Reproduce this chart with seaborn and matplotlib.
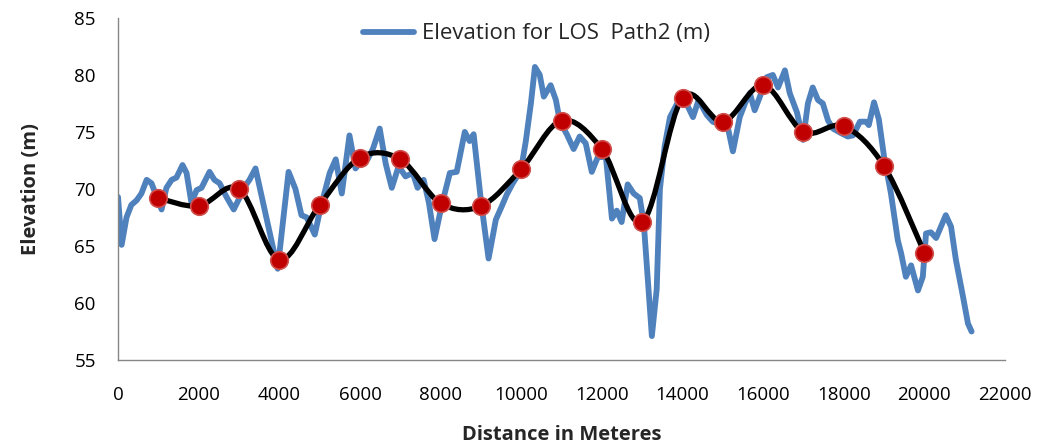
import numpy as np
import pandas as pd
import matplotlib
matplotlib.use('Agg')
import matplotlib.pyplot as plt
import seaborn as sns
from matplotlib.path import Path
from matplotlib.patches import PathPatch

# === Data ===
profile_dist = [0, 90, 210, 330, 460, 580, 710, 830, 960, 1080, 1200, 1330, 1450, 1600, 1700,
                1820, 1950, 2070, 2270, 2390, 2520, 2690, 2870, 3010, 3140, 3260, 3410, 3960,
                4230, 4400, 4550, 4680, 4880, 5020, 5250, 5400, 5550, 5740, 5890, 6040, 6190,
                6320, 6490, 6640, 6790, 6960, 7130, 7310, 7430, 7580, 7710, 7850, 8030, 8230,
                8400, 8600, 8720, 8820, 9000, 9190, 9370, 9520, 9640, 9790, 9990, 10110, 10240,
                10340, 10460, 10560, 10730, 10860, 10960, 11130, 11300, 11450, 11600, 11750,
                11900, 12100, 12250, 12370, 12490, 12640, 12790, 12940, 13040, 13110, 13240,
                13360, 13440, 13560, 13690, 13960, 14110, 14260, 14400, 14600, 14750, 14980,
                15100, 15250, 15420, 15550, 15670, 15790, 15920, 16090, 16240, 16370, 16540,
                16660, 16840, 16990, 17110, 17230, 17360, 17480, 17610, 17730, 17930, 18100,
                18230, 18400, 18550, 18620, 18750, 18870, 19000, 19170, 19340, 19420, 19540,
                19670, 19840, 19960, 20040, 20160, 20290, 20410, 20530, 20660, 20780, 20960,
                21080, 21170]
profile_elev = [69.3, 65.1, 67.5, 68.6, 69.0, 69.6, 70.8, 70.5, 69.3, 68.2, 70.1, 70.8, 71.0, 72.1, 71.4,
                68.8, 69.9, 70.1, 71.5, 70.8, 70.5, 69.3, 68.2, 69.2, 70.2, 70.8, 71.8, 63.0,
                71.5, 70.0, 67.7, 67.5, 66.0, 68.3, 71.4, 72.6, 69.6, 74.7, 71.8, 72.5, 72.6,
                73.5, 75.3, 72.2, 70.1, 72.0, 71.1, 71.4, 70.1, 70.8, 68.8, 65.6, 68.6, 71.4,
                71.5, 75.0, 74.2, 74.8, 69.0, 63.9, 67.3, 68.5, 69.5, 70.5, 71.6, 74.1, 77.5,
                80.7, 80.0, 78.1, 79.1, 77.8, 75.9, 74.8, 73.5, 74.6, 74.0, 71.5,
                72.8, 72.8, 67.4, 68.1, 67.1, 70.4, 69.6, 69.2, 67.0, 63.5, 57.1,
                61.2, 70.0, 73.8, 76.3, 78.1, 77.4, 76.3, 77.8, 76.5, 75.9, 75.6,
                75.8, 73.3, 76.3, 77.5, 78.4, 76.9, 78.1, 79.8, 80.0, 78.9, 80.4,
                78.4, 76.7, 74.3, 77.5, 78.9, 77.8, 77.5, 76.0, 75.3, 74.9, 74.6,
                74.7, 75.9, 75.9, 75.6, 77.6, 76.1, 72.8, 69.6, 65.5, 64.4, 62.3,
                63.3, 61.1, 62.3, 66.1, 66.2, 65.7, 66.7, 67.7, 66.7, 63.8, 60.5,
                58.2, 57.5]

sample_dist = [1000, 2000, 3000, 4000, 5000, 6000, 7000, 8000, 9000, 10000,
               11000, 12000, 13000, 14000, 15000, 16000, 17000, 18000, 19000, 20000]
sample_elev = [69.2, 68.5, 70.0, 63.8, 68.6, 72.75, 72.6, 68.75, 68.5, 71.75,
               76.0, 73.5, 67.1, 78.0, 75.9, 79.1, 75.0, 75.5, 72.0, 64.4]

x_ticks = list(range(0, 22001, 2000))
y_ticks = [55, 60, 65, 70, 75, 80, 85]

df_profile = pd.DataFrame({'Distance': profile_dist, 'Elevation': profile_elev})
df_samples = pd.DataFrame({'Distance': sample_dist, 'Elevation': sample_elev})

# === Style ===
sns.set_style('white')
plt.rcParams['font.family'] = ['Open Sans', 'DejaVu Sans']

fig = plt.figure(figsize=(10.5, 4.48), dpi=100)
ax = fig.add_axes([0.1124, 0.1964, 0.8448, 0.7636])

sns.lineplot(data=df_profile, x='Distance', y='Elevation', ax=ax, color='#4F81BD',
             linewidth=4.2, label='Elevation for LOS  Path2 (m)', legend=False)


def smooth_path(xs, ys):
    # Excel-like smoothed line: cubic bezier segments with Catmull-Rom tangents
    pts = np.column_stack([xs, ys]).astype(float)
    n = len(pts)
    verts = [pts[0]]
    codes = [Path.MOVETO]
    for i in range(n - 1):
        p0 = pts[max(i - 1, 0)]
        p1 = pts[i]
        p2 = pts[i + 1]
        p3 = pts[min(i + 2, n - 1)]
        verts += [p1 + (p2 - p0) / 6, p2 - (p3 - p1) / 6, p2]
        codes += [Path.CURVE4] * 3
    return Path(verts, codes)


ax.add_patch(PathPatch(smooth_path(sample_dist, sample_elev), facecolor='none',
                       edgecolor='black', linewidth=3.8, zorder=3, capstyle='round'))

sns.scatterplot(data=df_samples, x='Distance', y='Elevation', ax=ax, s=160,
                color='#C00000', edgecolor='#D0504D', linewidth=1.2, zorder=4, legend=False)

ax.set_xlim(0, 22000)
ax.set_ylim(55, 85)
ax.set_xticks(x_ticks)
ax.set_yticks(y_ticks)
ax.tick_params(axis='both', length=0, labelsize=13.5, colors='black')
ax.tick_params(axis='x', pad=19)
ax.tick_params(axis='y', pad=16)

for side in ['top', 'right']:
    ax.spines[side].set_visible(False)
for side in ['left', 'bottom']:
    ax.spines[side].set_color('#868686')
    ax.spines[side].set_linewidth(1.0)

ax.set_xlabel('Distance in Meteres', fontsize=14.5, fontweight='bold', labelpad=15)
ax.set_ylabel('Elevation (m)', fontsize=14.5, fontweight='bold', labelpad=24)

handles, labels = ax.get_legend_handles_labels()
fig.legend(handles, labels, loc='center left', bbox_to_anchor=(363 / 1050, 1 - 34 / 448),
           frameon=False, fontsize=16, handlelength=2.3, handletextpad=0.35,
           borderpad=0, borderaxespad=0)

fig.savefig('out.png', dpi=100)
